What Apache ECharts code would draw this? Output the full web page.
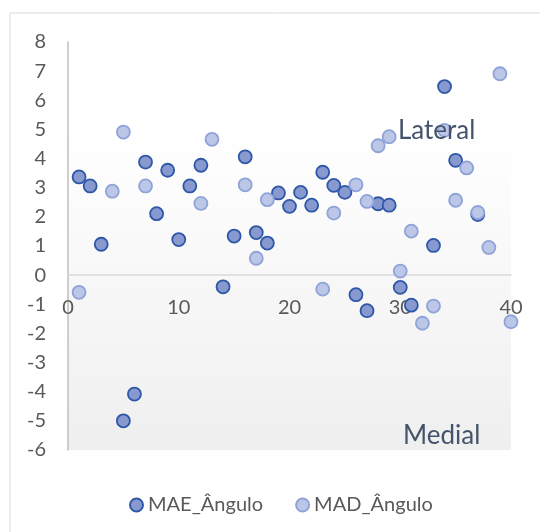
<!DOCTYPE html>
<html>
<head>
<meta charset="utf-8">
<script src="https://cdn.jsdelivr.net/npm/echarts@6/dist/echarts.min.js"></script>
<style>html,body{margin:0;padding:0;background:#fff}#c{width:540px;height:532px}</style>
</head>
<body>
<div id="c"></div>
<script>
const maeX = [1, 2, 3, 5, 6, 7, 8, 9, 10, 11, 12, 14, 15, 16, 17, 18, 19, 20, 21, 22, 23, 24, 25, 26, 27, 28, 29, 30, 31, 33, 34, 35, 37];
const maeY = [3.37, 3.06, 1.06, -5.0, -4.08, 3.88, 2.11, 3.6, 1.22, 3.06, 3.77, -0.4, 1.34, 4.06, 1.46, 1.1, 2.82, 2.36, 2.84, 2.4, 3.53, 3.08, 2.84, -0.67, -1.22, 2.45, 2.4, -0.42, -1.03, 1.02, 6.47, 3.94, 2.08];
const madX = [1, 4, 5, 7, 12, 13, 16, 17, 18, 23, 24, 26, 27, 28, 29, 30, 31, 32, 33, 34, 35, 36, 37, 38, 39, 40];
const madY = [-0.59, 2.88, 4.91, 3.06, 2.46, 4.66, 3.1, 0.58, 2.59, -0.48, 2.13, 3.1, 2.53, 4.44, 4.75, 0.14, 1.51, -1.65, -1.06, 4.97, 2.57, 3.68, 2.15, 0.95, 6.91, -1.6];
const seriesNames = ['MAE_Ângulo', 'MAD_Ângulo'];
const annotations = ['Lateral', 'Medial'];

const chart = echarts.init(document.getElementById('c'), null, {renderer: 'canvas'});
const font = 'Lato';
chart.setOption({
  animation: false,
  backgroundColor: '#ffffff',
  textStyle: {fontFamily: font},
  grid: {left: 68, right: 29, top: 42, bottom: 82},
  xAxis: {
    type: 'value', min: 0, max: 40, interval: 10,
    axisLine: {show: true, onZero: true, lineStyle: {color: '#d9d9d9', width: 1.5}},
    axisTick: {show: false},
    splitLine: {show: false},
    axisLabel: {color: '#595959', fontSize: 20, fontFamily: font, margin: -152}
  },
  yAxis: {
    type: 'value', min: -6, max: 8, interval: 1,
    axisLine: {show: true, onZero: false, lineStyle: {color: '#bfbfbf', width: 1.5}},
    axisTick: {show: false},
    splitLine: {show: false},
    axisLabel: {color: '#595959', fontSize: 20, fontFamily: font, margin: 22}
  },
  legend: {
    top: 490, left: 124, itemGap: 32, itemWidth: 13, itemHeight: 13,
    textStyle: {color: '#595959', fontSize: 20, fontFamily: font},
    data: [
      {name: seriesNames[0], icon: 'circle'},
      {name: seriesNames[1], icon: 'circle'}
    ]
  },
  graphic: [
    {type: 'rect', shape: {x: 10, y: 13, width: 600, height: 600}, style: {fill: 'none', stroke: '#d9d9d9', lineWidth: 1}, silent: true, z: -1},
    {type: 'text', left: 398, top: 118, style: {text: annotations[0], fill: '#44546a', font: '26px Lato'}, z: 10},
    {type: 'text', left: 403, top: 423, style: {text: annotations[1], fill: '#44546a', font: '26px Lato'}, z: 10}
  ],
  series: [
    {
      name: seriesNames[0], type: 'scatter', symbol: 'circle', symbolSize: 13,
      itemStyle: {color: '#8799cf', borderColor: '#2f57a8', borderWidth: 1.8, opacity: 1},
      data: maeX.map((x, i) => [x, maeY[i]]),
      markArea: {
        silent: true,
        itemStyle: {color: new echarts.graphic.LinearGradient(0, 0, 0, 1, [{offset: 0, color: '#ffffff'}, {offset: 1, color: '#efefef'}])},
        data: [[{coord: [0, 5]}, {coord: [40, -6]}]],
        z: -1
      },
      z: 3
    },
    {
      name: seriesNames[1], type: 'scatter', symbol: 'circle', symbolSize: 13,
      itemStyle: {color: '#bcc7e8', borderColor: '#8fa3d9', borderWidth: 1.8, opacity: 1},
      data: madX.map((x, i) => [x, madY[i]]),
      z: 4
    }
  ]
});
</script>
</body>
</html>
